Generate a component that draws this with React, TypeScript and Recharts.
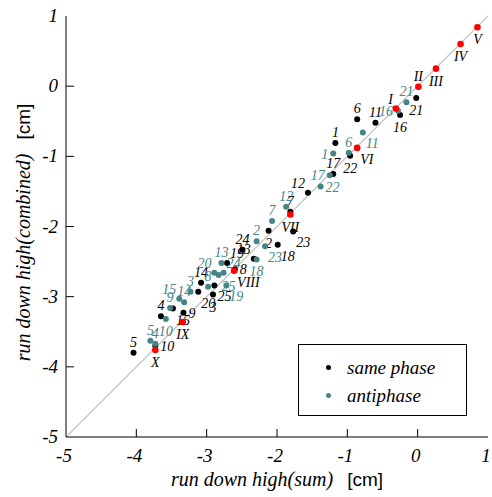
import React from 'react'
import { ScatterChart, Scatter, XAxis, YAxis, ReferenceLine } from 'recharts'

interface Pt {
  id: string
  x: number
  y: number
}

const samePhase: Pt[] = [
  { id: '1', x: -1.17, y: -0.81 },
  { id: '2', x: -2.12, y: -2.06 },
  { id: '3', x: -2.91, y: -2.97 },
  { id: '4', x: -3.65, y: -3.28 },
  { id: '5', x: -4.04, y: -3.8 },
  { id: '6', x: -0.86, y: -0.47 },
  { id: '7', x: -1.81, y: -1.79 },
  { id: '8', x: -2.6, y: -2.61 },
  { id: '9', x: -3.33, y: -3.23 },
  { id: '10', x: -3.73, y: -3.7 },
  { id: '11', x: -0.6, y: -0.52 },
  { id: '12', x: -1.56, y: -1.52 },
  { id: '13', x: -2.33, y: -2.46 },
  { id: '14', x: -3.08, y: -2.8 },
  { id: '15', x: -3.48, y: -3.17 },
  { id: '16', x: -0.25, y: -0.41 },
  { id: '17', x: -1.2, y: -1.25 },
  { id: '18', x: -1.99, y: -2.26 },
  { id: '19', x: -2.71, y: -2.52 },
  { id: '20', x: -3.12, y: -2.93 },
  { id: '21', x: -0.02, y: -0.17 },
  { id: '22', x: -0.96, y: -0.99 },
  { id: '23', x: -1.77, y: -2.07 },
  { id: '24', x: -2.49, y: -2.33 },
  { id: '25', x: -2.89, y: -2.84 },
]

const antiphase: Pt[] = [
  { id: '1', x: -1.2, y: -0.96 },
  { id: '2', x: -2.29, y: -2.21 },
  { id: '3', x: -3.23, y: -2.93 },
  { id: '4', x: -3.73, y: -3.67 },
  { id: '5', x: -3.8, y: -3.63 },
  { id: '6', x: -0.98, y: -0.95 },
  { id: '7', x: -2.07, y: -1.92 },
  { id: '8', x: -2.98, y: -2.86 },
  { id: '9', x: -3.52, y: -3.16 },
  { id: '10', x: -3.58, y: -3.32 },
  { id: '11', x: -0.78, y: -0.66 },
  { id: '12', x: -1.87, y: -1.72 },
  { id: '13', x: -2.79, y: -2.52 },
  { id: '14', x: -3.32, y: -3.08 },
  { id: '15', x: -3.39, y: -3.03 },
  { id: '16', x: -0.28, y: -0.35 },
  { id: '17', x: -1.25, y: -1.27 },
  { id: '18', x: -2.29, y: -2.47 },
  { id: '19', x: -2.72, y: -2.84 },
  { id: '20', x: -2.89, y: -2.66 },
  { id: '21', x: -0.16, y: -0.23 },
  { id: '22', x: -1.38, y: -1.43 },
  { id: '23', x: -2.17, y: -2.28 },
  { id: '24', x: -2.76, y: -2.66 },
  { id: '25', x: -2.83, y: -2.69 },
]

const cases: Pt[] = [
  { id: 'I', x: -0.31, y: -0.32 },
  { id: 'II', x: 0.01, y: -0.01 },
  { id: 'III', x: 0.26, y: 0.25 },
  { id: 'IV', x: 0.61, y: 0.6 },
  { id: 'V', x: 0.85, y: 0.84 },
  { id: 'VI', x: -0.86, y: -0.88 },
  { id: 'VII', x: -1.81, y: -1.83 },
  { id: 'VIII', x: -2.61, y: -2.63 },
  { id: 'IX', x: -3.34, y: -3.36 },
  { id: 'X', x: -3.73, y: -3.76 },
]

const axisTicks = [-5, -4, -3, -2, -1, 0, 1]

// where each point's number sits: a above, b below, l left, r right
const sameSide: Record<string, string> = {
  '1': 'a', '2': 'b', '3': 'b', '4': 'a', '5': 'a', '6': 'a', '7': 'a', '8': 'r',
  '9': 'r', '10': 'r', '11': 'a', '12': 'al', '13': 'al', '14': 'a', '15': 'br',
  '16': 'b', '17': 'a', '18': 'br', '19': 'ar', '20': 'br', '21': 'b', '22': 'b',
  '23': 'br', '24': 'a', '25': 'br',
}
const antiSide: Record<string, string> = {
  '1': 'l', '2': 'a', '3': 'a', '4': 'a', '5': 'a', '6': 'a', '7': 'a', '8': 'a',
  '9': 'a', '10': 'b', '11': 'br', '12': 'a', '13': 'a', '14': 'a', '15': 'al',
  '16': 'l', '17': 'l', '18': 'b', '19': 'br', '20': 'al', '21': 'a', '22': 'r',
  '23': 'br', '24': 'ar', '25': 'br',
}
const caseSide: Record<string, string> = {
  I: 'al', II: 'a', III: 'b', IV: 'b', V: 'b', VI: 'br', VII: 'b', VIII: 'br', IX: 'b', X: 'b',
}

const OFFSETS: Record<string, { dx: number; dy: number; anchor: 'start' | 'middle' | 'end' }> = {
  a: { dx: 0, dy: -6, anchor: 'middle' },
  b: { dx: 0, dy: 17, anchor: 'middle' },
  l: { dx: -5, dy: 5, anchor: 'end' },
  r: { dx: 5, dy: 5, anchor: 'start' },
  al: { dx: -3, dy: -5, anchor: 'end' },
  ar: { dx: 3, dy: -5, anchor: 'start' },
  bl: { dx: -3, dy: 16, anchor: 'end' },
  br: { dx: 3, dy: 16, anchor: 'start' },
}

const SERIF = 'Liberation Serif, DejaVu Serif, serif'
const SANS = 'Liberation Sans, Arial, sans-serif'
const TEAL = '#458585'

const makeShape = (fill: string, textFill: string, r: number, sides: Record<string, string>) =>
  (props: any) => {
    const { cx, cy, payload } = props
    const o = OFFSETS[sides[payload.id] || 'a']
    return (
      <g>
        <circle cx={cx} cy={cy} r={r} fill={fill} />
        <text
          x={cx + o.dx}
          y={cy + o.dy}
          textAnchor={o.anchor}
          style={{ fill: textFill, fontSize: 14, fontStyle: 'italic', fontFamily: SERIF }}
        >
          {payload.id}
        </text>
      </g>
    )
  }

const inner = (v: number) => v > -5 && v < 1

const tickStyle = { fontSize: 19, fontStyle: 'italic', fontFamily: SERIF, fill: '#000' }

const BottomTick = (props: any) => {
  const { x, y, payload } = props
  return (
    <g>
      {inner(payload.value) && <line x1={x} x2={x} y1={y} y2={y - 8} stroke="#000" />}
      <text x={x - 2} y={y + 25} textAnchor="middle" style={tickStyle}>
        {payload.value}
      </text>
    </g>
  )
}

const LeftTick = (props: any) => {
  const { x, y, payload } = props
  return (
    <g>
      {inner(payload.value) && <line x1={x} x2={x + 8} y1={y} y2={y} stroke="#000" />}
      <text x={x - 8} y={y + 6} textAnchor="end" style={tickStyle}>
        {payload.value}
      </text>
    </g>
  )
}

const TopTick = (props: any) => {
  const { x, y, payload } = props
  if (!inner(payload.value)) return <g />
  return <line x1={x} x2={x} y1={y} y2={y + 8} stroke="#000" />
}

const RightTick = (props: any) => {
  const { x, y, payload } = props
  if (!inner(payload.value)) return <g />
  return <line x1={x} x2={x - 8} y1={y} y2={y} stroke="#000" />
}

const XTitle = (props: any) => {
  const vb = props.viewBox
  return (
    <text x={vb.x + vb.width / 2} y={486} textAnchor="middle" style={{ fontSize: 20, fill: '#000' }}>
      <tspan style={{ fontStyle: 'italic', fontFamily: SERIF }}>run down high(sum)</tspan>
      <tspan dx={14} style={{ fontFamily: SANS, fontSize: 19 }}>[cm]</tspan>
    </text>
  )
}

const YTitle = (props: any) => {
  const vb = props.viewBox
  const cy = vb.y + vb.height / 2 + 6
  return (
    <text x={30} y={cy} textAnchor="middle" transform={`rotate(-90, 30, ${cy})`} style={{ fontSize: 20, fill: '#000' }}>
      <tspan style={{ fontStyle: 'italic', fontFamily: SERIF }}>run down high(combined)</tspan>
      <tspan dx={14} style={{ fontFamily: SANS, fontSize: 19 }}>[cm]</tspan>
    </text>
  )
}

const legendItems = [
  { name: 'same phase', color: '#000' },
  { name: 'antiphase', color: TEAL },
]

export default function App() {
  return (
    <div style={{ position: 'absolute', left: 0, top: 0, width: 492, height: 497, background: '#fff' }}>
      <ScatterChart width={492} height={497} margin={{ top: 16, right: 4, bottom: 0, left: 0 }}>
        <XAxis
          xAxisId="b"
          type="number"
          dataKey="x"
          domain={[-5, 1]}
          ticks={axisTicks}
          height={60}
          tickSize={0}
          tickMargin={0}
          tickLine={false}
          axisLine={{ stroke: '#000' }}
          tick={BottomTick}
          allowDataOverflow
          label={{ content: XTitle }}
        />
        <XAxis
          xAxisId="t"
          orientation="top"
          type="number"
          dataKey="x"
          domain={[-5, 1]}
          ticks={axisTicks}
          height={0}
          tickSize={0}
          tickMargin={0}
          tickLine={false}
          axisLine={{ stroke: '#000' }}
          tick={TopTick}
          allowDataOverflow
        />
        <YAxis
          yAxisId="l"
          type="number"
          dataKey="y"
          domain={[-5, 1]}
          ticks={axisTicks}
          width={66}
          tickSize={0}
          tickMargin={0}
          tickLine={false}
          axisLine={{ stroke: '#000' }}
          tick={LeftTick}
          allowDataOverflow
          label={{ content: YTitle }}
        />
        <YAxis
          yAxisId="r"
          orientation="right"
          type="number"
          dataKey="y"
          domain={[-5, 1]}
          ticks={axisTicks}
          width={0}
          tickSize={0}
          tickMargin={0}
          tickLine={false}
          axisLine={{ stroke: '#000' }}
          tick={RightTick}
          allowDataOverflow
        />
        <ReferenceLine
          xAxisId="b"
          yAxisId="l"
          segment={[{ x: -5, y: -5 }, { x: 1, y: 1 }]}
          stroke="#c4c4c4"
          strokeWidth={1.2}
        />
        <Scatter
          xAxisId="b"
          yAxisId="l"
          name="same phase"
          data={samePhase}
          shape={makeShape('#000', '#000', 3, sameSide)}
          isAnimationActive={false}
        />
        <Scatter
          xAxisId="b"
          yAxisId="l"
          name="antiphase"
          data={antiphase}
          shape={makeShape(TEAL, TEAL, 3, antiSide)}
          isAnimationActive={false}
        />
        <Scatter
          xAxisId="b"
          yAxisId="l"
          name="cases"
          data={cases}
          shape={makeShape('#ff0000', '#000', 3.3, caseSide)}
          isAnimationActive={false}
        />
      </ScatterChart>
      <div
        style={{
          position: 'absolute',
          left: 298,
          top: 344,
          width: 167,
          height: 70,
          border: '1px solid #000',
          background: '#fff',
          fontFamily: SERIF,
          fontStyle: 'italic',
          fontSize: 19,
        }}
      >
        {legendItems.map((it, i) => (
          <div key={it.name} style={{ position: 'absolute', left: 24, top: 12 + i * 28, height: 22, lineHeight: '22px' }}>
            <span
              style={{
                position: 'absolute',
                left: 3,
                top: 8,
                width: 5,
                height: 5,
                borderRadius: 3,
                background: it.color,
              }}
            />
            <span style={{ position: 'absolute', left: 24, whiteSpace: 'nowrap' }}>{it.name}</span>
          </div>
        ))}
      </div>
    </div>
  )
}
